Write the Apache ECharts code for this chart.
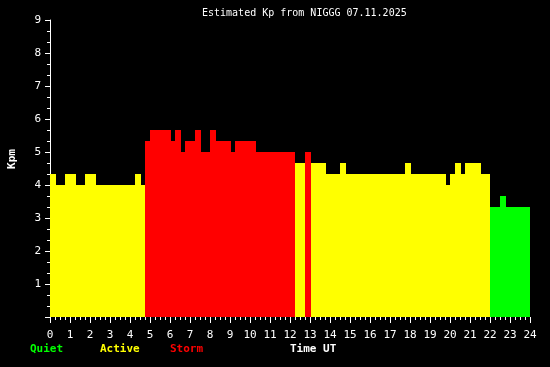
<!DOCTYPE html>
<html>
<head>
<meta charset="utf-8">
<script src="https://cdn.jsdelivr.net/npm/echarts@6/dist/echarts.min.js"></script>
<style>
html,body{margin:0;padding:0;background:#000;}
#chart{width:550px;height:367px;}
</style>
</head>
<body>
<div id="chart"></div>
<script>
// Segment start / end times (hours UT) and estimated Kp values
const segStart = [0, 0.3, 0.75, 1.3, 1.75, 2.3, 4.25, 4.55, 4.75, 5.0, 6.05, 6.25, 6.55, 6.75, 7.25, 7.55, 8.0, 8.3, 9.05, 9.25, 10.3, 12.25, 12.75, 13.05, 13.8, 14.5, 14.8, 17.75, 18.05, 19.8, 20.0, 20.25, 20.55, 20.75, 21.55, 22.0, 22.5, 22.8];
const segEnd   = [0.3, 0.75, 1.3, 1.75, 2.3, 4.25, 4.55, 4.75, 5.0, 6.05, 6.25, 6.55, 6.75, 7.25, 7.55, 8.0, 8.3, 9.05, 9.25, 10.3, 12.25, 12.75, 13.05, 13.8, 14.5, 14.8, 17.75, 18.05, 19.8, 20.0, 20.25, 20.55, 20.75, 21.55, 22.0, 22.5, 22.8, 24.0];
const kpValues = [4.33, 4.0, 4.33, 4.0, 4.33, 4.0, 4.33, 4.0, 5.33, 5.67, 5.33, 5.67, 5.0, 5.33, 5.67, 5.0, 5.67, 5.33, 5.0, 5.33, 5.0, 4.67, 5.0, 4.67, 4.33, 4.67, 4.33, 4.67, 4.33, 4.0, 4.33, 4.67, 4.33, 4.67, 4.33, 3.33, 3.67, 3.33];
const xTicks = [0, 24, 1];
const yTicks = [0, 9, 1];
const titleText = 'Estimated Kp from NIGGG 07.11.2025';
const legendLabels = ['Quiet', 'Active', 'Storm'];

const QUIET = '#00ff00', ACTIVE = '#ffff00', STORM = '#ff0000';
function kpColor(v) { return v >= 5 ? STORM : (v >= 4 ? ACTIVE : QUIET); }

const data = segStart.map((s, i) => [s, segEnd[i], kpValues[i]]);
const mono = 'DejaVu Sans Mono';

const chart = echarts.init(document.getElementById('chart'), null, {renderer: 'canvas'});
chart.setOption({
  backgroundColor: '#000',
  animation: false,
  title: {
    text: titleText, left: 197, top: 3,
    textStyle: {color: '#fff', fontFamily: mono, fontSize: 10, fontWeight: 'normal'}
  },
  grid: {left: 50, right: 20, top: 20, bottom: 50},
  xAxis: {
    type: 'value', min: xTicks[0], max: xTicks[1], interval: xTicks[2],
    axisLine: {show: false},
    axisTick: {show: true, length: 6, lineStyle: {color: '#fff'}},
    minorTick: {show: true, splitNumber: 4, length: 3, lineStyle: {color: '#fff'}},
    splitLine: {show: false},
    axisLabel: {color: '#fff', fontFamily: mono, fontSize: 11, margin: 13}
  },
  yAxis: {
    type: 'value', min: yTicks[0], max: yTicks[1], interval: yTicks[2],
    axisLine: {show: true, lineStyle: {color: '#fff', width: 1}},
    axisTick: {show: true, length: 5, lineStyle: {color: '#fff'}},
    minorTick: {show: true, splitNumber: 3, length: 3, lineStyle: {color: '#fff'}},
    splitLine: {show: false},
    axisLabel: {color: '#fff', fontFamily: mono, fontSize: 11, margin: 9,
      formatter: v => v === 0 ? '' : String(v)}
  },
  graphic: [
    {type: 'text', x: 12, y: 159, rotation: Math.PI / 2, style: {text: 'Kpm', fill: '#fff', font: 'bold 11px ' + mono, align: 'center', verticalAlign: 'middle'}},
    {type: 'text', left: 30, top: 344, style: {text: legendLabels[0], fill: QUIET, font: 'bold 11px ' + mono}},
    {type: 'text', left: 100, top: 344, style: {text: legendLabels[1], fill: ACTIVE, font: 'bold 11px ' + mono}},
    {type: 'text', left: 170, top: 344, style: {text: legendLabels[2], fill: STORM, font: 'bold 11px ' + mono}},
    {type: 'text', left: 290, top: 344, style: {text: 'Time UT', fill: '#fff', font: 'bold 11px ' + mono}}
  ],
  series: [{
    type: 'custom',
    data: data,
    encode: {x: [0, 1], y: 2},
    renderItem: function (params, api) {
      const v = api.value(2);
      const p0 = api.coord([api.value(0), v]);
      const p1 = api.coord([api.value(1), 0]);
      const x0 = Math.round(p0[0]), x1 = Math.round(p1[0]);
      const y0 = Math.round(p0[1]), y1 = Math.round(p1[1]);
      return {
        type: 'rect',
        shape: {x: x0, y: y0, width: x1 - x0, height: y1 - y0},
        style: {fill: kpColor(v), stroke: null}
      };
    }
  }]
});
</script>
</body>
</html>
